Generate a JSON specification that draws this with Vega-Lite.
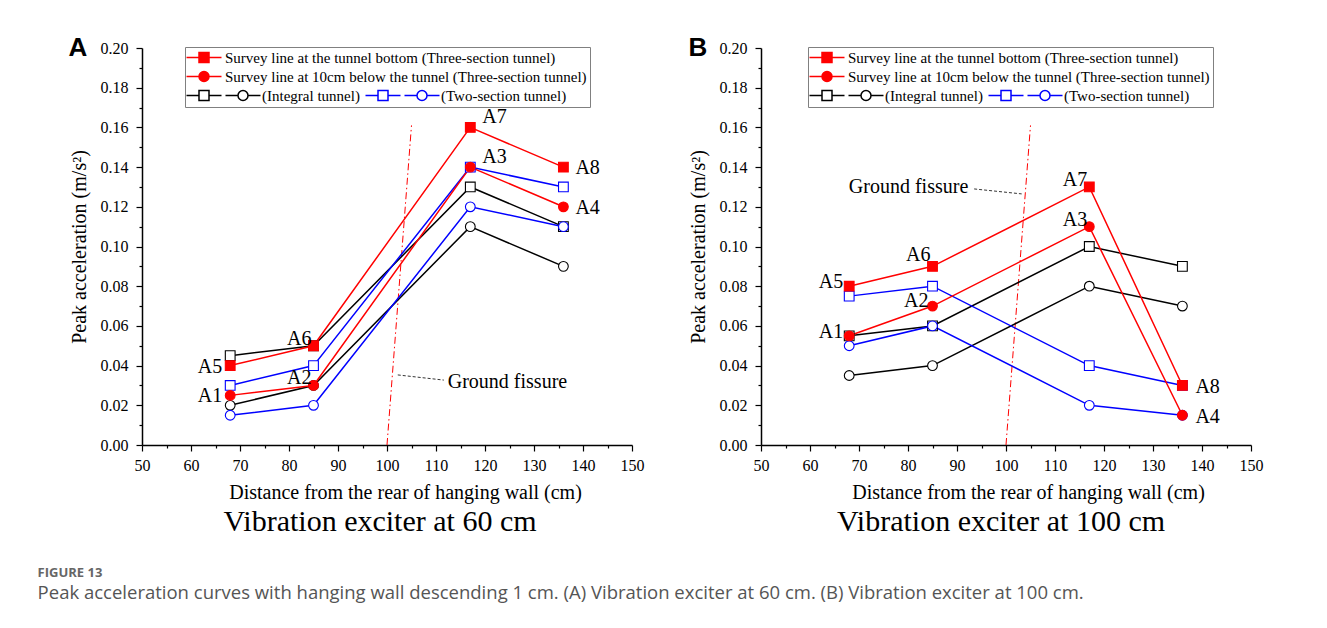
{
  "$schema": "https://vega.github.io/schema/vega-lite/v6.json",
  "background": "white",
  "padding": {"left": 37, "top": 35, "right": 5, "bottom": 5},
  "config": {
    "font": "Liberation Serif",
    "view": {"stroke": null},
    "axis": {
      "labelFont": "Liberation Serif", "titleFont": "Liberation Serif",
      "labelFontSize": 16, "titleFontSize": 20, "titleFontWeight": "normal",
      "labelColor": "#000000", "titleColor": "#000000",
      "domainColor": "#000000", "tickColor": "#000000",
      "domainWidth": 1.5, "tickWidth": 1.2,
      "grid": false, "labelFlush": false, "labelOverlap": false, "labelBound": false
    },
    "axisX": {"labelPadding": 6, "titlePadding": 9},
    "axisY": {"labelPadding": 8, "titlePadding": 11, "titleFontSize": 20},
    "legend": {
      "title": null, "orient": "none", "direction": "vertical", "padding": 3,
      "labelFont": "Liberation Serif", "labelFontSize": 15, "labelColor": "#000000",
      "symbolSize": 100, "symbolStrokeWidth": 1.5, "labelOffset": 22, "rowPadding": 2, "labelLimit": 0
    },
    "text": {"font": "Liberation Serif"}
  },
  "datasets": {
    "main": [
      {"panel": "A", "series": "Integral bottom", "x": 68, "y": 0.045},
      {"panel": "A", "series": "Integral bottom", "x": 85, "y": 0.05},
      {"panel": "A", "series": "Integral bottom", "x": 117, "y": 0.13},
      {"panel": "A", "series": "Integral bottom", "x": 136, "y": 0.11},
      {"panel": "A", "series": "Integral 10cm", "x": 68, "y": 0.02},
      {"panel": "A", "series": "Integral 10cm", "x": 85, "y": 0.03},
      {"panel": "A", "series": "Integral 10cm", "x": 117, "y": 0.11},
      {"panel": "A", "series": "Integral 10cm", "x": 136, "y": 0.09},
      {"panel": "A", "series": "Two-section bottom", "x": 68, "y": 0.03},
      {"panel": "A", "series": "Two-section bottom", "x": 85, "y": 0.04},
      {"panel": "A", "series": "Two-section bottom", "x": 117, "y": 0.14},
      {"panel": "A", "series": "Two-section bottom", "x": 136, "y": 0.13},
      {"panel": "A", "series": "Two-section 10cm", "x": 68, "y": 0.015},
      {"panel": "A", "series": "Two-section 10cm", "x": 85, "y": 0.02},
      {"panel": "A", "series": "Two-section 10cm", "x": 117, "y": 0.12},
      {"panel": "A", "series": "Two-section 10cm", "x": 136, "y": 0.11},
      {"panel": "A", "series": "Three-section bottom", "x": 68, "y": 0.04, "point": "A5"},
      {"panel": "A", "series": "Three-section bottom", "x": 85, "y": 0.05, "point": "A6"},
      {"panel": "A", "series": "Three-section bottom", "x": 117, "y": 0.16, "point": "A7"},
      {"panel": "A", "series": "Three-section bottom", "x": 136, "y": 0.14, "point": "A8"},
      {"panel": "A", "series": "Three-section 10cm", "x": 68, "y": 0.025, "point": "A1"},
      {"panel": "A", "series": "Three-section 10cm", "x": 85, "y": 0.03, "point": "A2"},
      {"panel": "A", "series": "Three-section 10cm", "x": 117, "y": 0.14, "point": "A3"},
      {"panel": "A", "series": "Three-section 10cm", "x": 136, "y": 0.12, "point": "A4"},
      {"panel": "B", "series": "Integral bottom", "x": 68, "y": 0.055},
      {"panel": "B", "series": "Integral bottom", "x": 85, "y": 0.06},
      {"panel": "B", "series": "Integral bottom", "x": 117, "y": 0.10},
      {"panel": "B", "series": "Integral bottom", "x": 136, "y": 0.09},
      {"panel": "B", "series": "Integral 10cm", "x": 68, "y": 0.035},
      {"panel": "B", "series": "Integral 10cm", "x": 85, "y": 0.04},
      {"panel": "B", "series": "Integral 10cm", "x": 117, "y": 0.08},
      {"panel": "B", "series": "Integral 10cm", "x": 136, "y": 0.07},
      {"panel": "B", "series": "Two-section bottom", "x": 68, "y": 0.075},
      {"panel": "B", "series": "Two-section bottom", "x": 85, "y": 0.08},
      {"panel": "B", "series": "Two-section bottom", "x": 117, "y": 0.04},
      {"panel": "B", "series": "Two-section bottom", "x": 136, "y": 0.03},
      {"panel": "B", "series": "Two-section 10cm", "x": 68, "y": 0.05},
      {"panel": "B", "series": "Two-section 10cm", "x": 85, "y": 0.06},
      {"panel": "B", "series": "Two-section 10cm", "x": 117, "y": 0.02},
      {"panel": "B", "series": "Two-section 10cm", "x": 136, "y": 0.015},
      {"panel": "B", "series": "Three-section bottom", "x": 68, "y": 0.08, "point": "A5"},
      {"panel": "B", "series": "Three-section bottom", "x": 85, "y": 0.09, "point": "A6"},
      {"panel": "B", "series": "Three-section bottom", "x": 117, "y": 0.13, "point": "A7"},
      {"panel": "B", "series": "Three-section bottom", "x": 136, "y": 0.03, "point": "A8"},
      {"panel": "B", "series": "Three-section 10cm", "x": 68, "y": 0.055, "point": "A1"},
      {"panel": "B", "series": "Three-section 10cm", "x": 85, "y": 0.07, "point": "A2"},
      {"panel": "B", "series": "Three-section 10cm", "x": 117, "y": 0.11, "point": "A3"},
      {"panel": "B", "series": "Three-section 10cm", "x": 136, "y": 0.015, "point": "A4"}
    ],
    "fissure": [
      {"panel": "A", "x": 100, "y": 0}, {"panel": "A", "x": 105, "y": 0.161},
      {"panel": "B", "x": 100, "y": 0}, {"panel": "B", "x": 105, "y": 0.161}
    ],
    "leader": [
      {"panel": "A", "x": 102.2, "y": 0.0353}, {"panel": "A", "x": 111.6, "y": 0.0327},
      {"panel": "B", "x": 93.5, "y": 0.1290}, {"panel": "B", "x": 103.2, "y": 0.1265}
    ],
    "notes": [
      {"panel": "A", "x": 112.4, "y": 0.0317, "text": "Ground fissure"},
      {"panel": "B", "x": 92.3, "y": 0.130, "text": "Ground fissure"}
    ],
    "letters": [
      {"panel": "A", "letter": "A", "x": 50, "y": 0.2},
      {"panel": "B", "letter": "B", "x": 50, "y": 0.2}
    ],
    "legend1": [
      {"entry": "Survey line at the tunnel bottom (Three-section tunnel)"},
      {"entry": "Survey line at 10cm below the tunnel (Three-section tunnel)"},
      {"entry": "blank1"}
    ],
    "legend2": [
      {"entry2": "i1"}, {"entry2": "i2"}, {"entry2": "(Integral tunnel)"}
    ],
    "legend3": [
      {"entry3": "h1"}, {"entry3": "h2"}, {"entry3": "(Two-section tunnel)"}
    ]
  },
  "hconcat": [
    {
      "width": 490, "height": 397,
      "title": {"text": "Vibration exciter at 60 cm", "orient": "bottom", "fontSize": 30, "font": "Liberation Serif", "fontWeight": "normal", "color": "#000000", "offset": 5, "dx": -7},
      "encoding": {
        "x": {"field": "x", "type": "quantitative", "scale": {"domain": [50, 150], "nice": false, "zero": false},
          "axis": {"title": "Distance from the rear of hanging wall (cm)", "titleX": 263,
            "values": [50,55,60,65,70,75,80,85,90,95,100,105,110,115,120,125,130,135,140,145,150],
            "labelExpr": "datum.value % 10 === 0 ? datum.label : ''",
            "tickSize": {"condition": {"test": "datum.value % 10 !== 0", "value": 3}, "value": 6}}},
        "y": {"field": "y", "type": "quantitative", "scale": {"domain": [0, 0.2], "nice": false},
          "axis": {"title": "Peak acceleration (m/s²)",
            "values": [0,0.01,0.02,0.03,0.04,0.05,0.06,0.07,0.08,0.09,0.1,0.11,0.12,0.13,0.14,0.15,0.16,0.17,0.18,0.19,0.2],
            "labelExpr": "round(datum.value*100) % 2 === 0 ? format(datum.value, '.2f') : ''",
            "tickSize": {"condition": {"test": "round(datum.value*100) % 2 !== 0", "value": 3}, "value": 6}}}
      },
      "layer": [
        {"data": {"name": "fissure"}, "transform": [{"filter": "datum.panel === 'A'"}],
          "mark": {"type": "line", "color": "#ff0000", "strokeWidth": 1, "strokeDash": [7, 3, 1.5, 3]}},
        {"data": {"name": "leader"}, "transform": [{"filter": "datum.panel === 'A'"}],
          "mark": {"type": "line", "color": "#000000", "strokeWidth": 0.8, "strokeDash": [3, 2]}},
        {"data": {"name": "notes"}, "transform": [{"filter": "datum.panel === 'A'"}],
          "mark": {"type": "text", "align": "left", "baseline": "middle", "fontSize": 20, "color": "#000000"},
          "encoding": {"text": {"field": "text"}}},
        {"data": {"name": "main"}, "transform": [{"filter": "datum.panel === 'A'"}],
          "mark": {"type": "line", "strokeWidth": 1.5},
          "encoding": {"color": {"field": "series", "type": "nominal", "legend": null,
            "scale": {"domain": ["Integral bottom", "Integral 10cm", "Two-section bottom", "Two-section 10cm", "Three-section bottom", "Three-section 10cm"],
              "range": ["#000000", "#000000", "#0000ff", "#0000ff", "#ff0000", "#ff0000"]}}}},
        {"data": {"name": "main"}, "transform": [{"filter": "datum.panel === 'A'"}],
          "mark": {"type": "point", "filled": true, "size": 95, "strokeWidth": 1.1, "opacity": 1},
          "encoding": {
            "shape": {"field": "series", "type": "nominal", "legend": null,
              "scale": {"domain": ["Integral bottom", "Integral 10cm", "Two-section bottom", "Two-section 10cm", "Three-section bottom", "Three-section 10cm"],
                "range": ["square", "circle", "square", "circle", "square", "circle"]}},
            "fill": {"field": "series", "type": "nominal", "legend": null,
              "scale": {"domain": ["Integral bottom", "Integral 10cm", "Two-section bottom", "Two-section 10cm", "Three-section bottom", "Three-section 10cm"],
                "range": ["#ffffff", "#ffffff", "#ffffff", "#ffffff", "#ff0000", "#ff0000"]}},
            "stroke": {"field": "series", "type": "nominal", "legend": null,
              "scale": {"domain": ["Integral bottom", "Integral 10cm", "Two-section bottom", "Two-section 10cm", "Three-section bottom", "Three-section 10cm"],
                "range": ["#000000", "#000000", "#0000ff", "#0000ff", "#ff0000", "#ff0000"]}}
          }},
        {"data": {"name": "main"}, "transform": [{"filter": "datum.panel === 'A' && indexof(['A7','A3'], datum.point) >= 0"}],
          "mark": {"type": "text", "align": "left", "baseline": "middle", "dx": 12, "dy": -10, "fontSize": 20, "color": "#000000"},
          "encoding": {"text": {"field": "point"}}},
        {"data": {"name": "main"}, "transform": [{"filter": "datum.panel === 'A' && indexof(['A8','A4'], datum.point) >= 0"}],
          "mark": {"type": "text", "align": "left", "baseline": "middle", "dx": 12, "dy": 1, "fontSize": 20, "color": "#000000"},
          "encoding": {"text": {"field": "point"}}},
        {"data": {"name": "main"}, "transform": [{"filter": "datum.panel === 'A' && indexof(['A5','A1'], datum.point) >= 0"}],
          "mark": {"type": "text", "align": "right", "baseline": "middle", "dx": -8, "dy": 1, "fontSize": 20, "color": "#000000"},
          "encoding": {"text": {"field": "point"}}},
        {"data": {"name": "main"}, "transform": [{"filter": "datum.panel === 'A' && indexof(['A6','A2'], datum.point) >= 0"}],
          "mark": {"type": "text", "align": "right", "baseline": "middle", "dx": -2, "dy": -7, "fontSize": 20, "color": "#000000"},
          "encoding": {"text": {"field": "point"}}},
        {"data": {"name": "letters"}, "transform": [{"filter": "datum.panel === 'A'"}],
          "mark": {"type": "text", "align": "center", "baseline": "middle", "dx": -64, "font": "Liberation Sans", "fontWeight": "bold", "fontSize": 26, "color": "#000000"},
          "encoding": {"text": {"field": "letter"}}},
        {"data": {"name": "legend1"}, "transform": [{"filter": "false"}],
          "mark": {"type": "point", "filled": true, "strokeWidth": 1.5, "opacity": 1},
          "encoding": {
            "shape": {"field": "entry", "type": "nominal",
              "scale": {"domain": ["Survey line at the tunnel bottom (Three-section tunnel)", "Survey line at 10cm below the tunnel (Three-section tunnel)", "blank1"],
                "range": ["M-1.8,0H5.2M0.7,-1H2.7V1H0.7Z", "M-1.8,0H5.2M2.7,0A1,1 0 1,1 0.7,0A1,1 0 1,1 2.7,0Z", "square"]},
              "legend": {"legendX": 43, "legendY": -1, "strokeColor": "#808080", "fillColor": "#ffffff",
                "labelExpr": "datum.label === 'blank1' ? '\u00a0' : datum.label"}},
            "stroke": {"field": "entry", "type": "nominal",
              "scale": {"domain": ["Survey line at the tunnel bottom (Three-section tunnel)", "Survey line at 10cm below the tunnel (Three-section tunnel)", "blank1"],
                "range": ["#ff0000", "#ff0000", "transparent"]},
              "legend": {"legendX": 43, "legendY": -1, "strokeColor": "#808080", "fillColor": "#ffffff",
                "labelExpr": "datum.label === 'blank1' ? '\u00a0' : datum.label"}},
            "fill": {"field": "entry", "type": "nominal",
              "scale": {"domain": ["Survey line at the tunnel bottom (Three-section tunnel)", "Survey line at 10cm below the tunnel (Three-section tunnel)", "blank1"],
                "range": ["#ff0000", "#ff0000", "transparent"]},
              "legend": {"legendX": 43, "legendY": -1, "strokeColor": "#808080", "fillColor": "#ffffff",
                "labelExpr": "datum.label === 'blank1' ? '\u00a0' : datum.label"}}
          }},
        {"data": {"name": "legend2"}, "transform": [{"filter": "false"}],
          "mark": {"type": "point", "filled": true, "strokeWidth": 1.5, "opacity": 1},
          "encoding": {
            "shape": {"field": "entry2", "type": "nominal",
              "scale": {"domain": ["i1", "i2", "(Integral tunnel)"],
                "range": ["square", "square", "M-1.8,0H0.7M2.7,0H5.2M0.7,-1H2.7V1H0.7ZM6,0H8.5M10.5,0H13M10.5,0A1,1 0 1,1 8.5,0A1,1 0 1,1 10.5,0Z"]},
              "legend": {"legendX": 43, "legendY": -1, "labelOffset": 59,
                "labelExpr": "datum.label === '(Integral tunnel)' ? datum.label : '\u00a0'"}},
            "stroke": {"field": "entry2", "type": "nominal",
              "scale": {"domain": ["i1", "i2", "(Integral tunnel)"], "range": ["transparent", "transparent", "#000000"]},
              "legend": {"legendX": 43, "legendY": -1, "labelOffset": 59,
                "labelExpr": "datum.label === '(Integral tunnel)' ? datum.label : '\u00a0'"}},
            "fill": {"field": "entry2", "type": "nominal",
              "scale": {"domain": ["i1", "i2", "(Integral tunnel)"], "range": ["transparent", "transparent", "#ffffff"]},
              "legend": {"legendX": 43, "legendY": -1, "labelOffset": 59,
                "labelExpr": "datum.label === '(Integral tunnel)' ? datum.label : '\u00a0'"}}
          }},
        {"data": {"name": "legend3"}, "transform": [{"filter": "false"}],
          "mark": {"type": "point", "filled": true, "strokeWidth": 1.5, "opacity": 1},
          "encoding": {
            "shape": {"field": "entry3", "type": "nominal",
              "scale": {"domain": ["h1", "h2", "(Two-section tunnel)"],
                "range": ["square", "square", "M-1.8,0H0.7M2.7,0H5.2M0.7,-1H2.7V1H0.7ZM6,0H8.5M10.5,0H13M10.5,0A1,1 0 1,1 8.5,0A1,1 0 1,1 10.5,0Z"]},
              "legend": {"legendX": 222, "legendY": -1, "labelOffset": 59,
                "labelExpr": "datum.label === '(Two-section tunnel)' ? datum.label : '\u00a0'"}},
            "stroke": {"field": "entry3", "type": "nominal",
              "scale": {"domain": ["h1", "h2", "(Two-section tunnel)"], "range": ["transparent", "transparent", "#0000ff"]},
              "legend": {"legendX": 222, "legendY": -1, "labelOffset": 59,
                "labelExpr": "datum.label === '(Two-section tunnel)' ? datum.label : '\u00a0'"}},
            "fill": {"field": "entry3", "type": "nominal",
              "scale": {"domain": ["h1", "h2", "(Two-section tunnel)"], "range": ["transparent", "transparent", "#ffffff"]},
              "legend": {"legendX": 222, "legendY": -1, "labelOffset": 59,
                "labelExpr": "datum.label === '(Two-section tunnel)' ? datum.label : '\u00a0'"}}
          }}
      ],
      "resolve": {"scale": {"shape": "independent", "fill": "independent", "stroke": "independent", "color": "independent"}}
    },
    {
      "width": 490, "height": 397,
      "title": {"text": "Vibration exciter at 100 cm", "orient": "bottom", "fontSize": 30, "font": "Liberation Serif", "fontWeight": "normal", "color": "#000000", "offset": 5, "dx": -5},
      "encoding": {
        "x": {"field": "x", "type": "quantitative", "scale": {"domain": [50, 150], "nice": false, "zero": false},
          "axis": {"title": "Distance from the rear of hanging wall (cm)", "titleX": 267,
            "values": [50,55,60,65,70,75,80,85,90,95,100,105,110,115,120,125,130,135,140,145,150],
            "labelExpr": "datum.value % 10 === 0 ? datum.label : ''",
            "tickSize": {"condition": {"test": "datum.value % 10 !== 0", "value": 3}, "value": 6}}},
        "y": {"field": "y", "type": "quantitative", "scale": {"domain": [0, 0.2], "nice": false},
          "axis": {"title": "Peak acceleration (m/s²)",
            "values": [0,0.01,0.02,0.03,0.04,0.05,0.06,0.07,0.08,0.09,0.1,0.11,0.12,0.13,0.14,0.15,0.16,0.17,0.18,0.19,0.2],
            "labelExpr": "round(datum.value*100) % 2 === 0 ? format(datum.value, '.2f') : ''",
            "tickSize": {"condition": {"test": "round(datum.value*100) % 2 !== 0", "value": 3}, "value": 6}}}
      },
      "layer": [
        {"data": {"name": "fissure"}, "transform": [{"filter": "datum.panel === 'B'"}],
          "mark": {"type": "line", "color": "#ff0000", "strokeWidth": 1, "strokeDash": [7, 3, 1.5, 3]}},
        {"data": {"name": "leader"}, "transform": [{"filter": "datum.panel === 'B'"}],
          "mark": {"type": "line", "color": "#000000", "strokeWidth": 0.8, "strokeDash": [3, 2]}},
        {"data": {"name": "notes"}, "transform": [{"filter": "datum.panel === 'B'"}],
          "mark": {"type": "text", "align": "right", "baseline": "middle", "fontSize": 20, "color": "#000000"},
          "encoding": {"text": {"field": "text"}}},
        {"data": {"name": "main"}, "transform": [{"filter": "datum.panel === 'B'"}],
          "mark": {"type": "line", "strokeWidth": 1.5},
          "encoding": {"color": {"field": "series", "type": "nominal", "legend": null,
            "scale": {"domain": ["Integral bottom", "Integral 10cm", "Two-section bottom", "Two-section 10cm", "Three-section bottom", "Three-section 10cm"],
              "range": ["#000000", "#000000", "#0000ff", "#0000ff", "#ff0000", "#ff0000"]}}}},
        {"data": {"name": "main"}, "transform": [{"filter": "datum.panel === 'B'"}],
          "mark": {"type": "point", "filled": true, "size": 95, "strokeWidth": 1.1, "opacity": 1},
          "encoding": {
            "shape": {"field": "series", "type": "nominal", "legend": null,
              "scale": {"domain": ["Integral bottom", "Integral 10cm", "Two-section bottom", "Two-section 10cm", "Three-section bottom", "Three-section 10cm"],
                "range": ["square", "circle", "square", "circle", "square", "circle"]}},
            "fill": {"field": "series", "type": "nominal", "legend": null,
              "scale": {"domain": ["Integral bottom", "Integral 10cm", "Two-section bottom", "Two-section 10cm", "Three-section bottom", "Three-section 10cm"],
                "range": ["#ffffff", "#ffffff", "#ffffff", "#ffffff", "#ff0000", "#ff0000"]}},
            "stroke": {"field": "series", "type": "nominal", "legend": null,
              "scale": {"domain": ["Integral bottom", "Integral 10cm", "Two-section bottom", "Two-section 10cm", "Three-section bottom", "Three-section 10cm"],
                "range": ["#000000", "#000000", "#0000ff", "#0000ff", "#ff0000", "#ff0000"]}}
          }},
        {"data": {"name": "main"}, "transform": [{"filter": "datum.panel === 'B' && indexof(['A5','A1'], datum.point) >= 0"}],
          "mark": {"type": "text", "align": "right", "baseline": "middle", "dx": -6, "dy": -4, "fontSize": 20, "color": "#000000"},
          "encoding": {"text": {"field": "point"}}},
        {"data": {"name": "main"}, "transform": [{"filter": "datum.panel === 'B' && indexof(['A6'], datum.point) >= 0"}],
          "mark": {"type": "text", "align": "right", "baseline": "middle", "dx": -2, "dy": -11, "fontSize": 20, "color": "#000000"},
          "encoding": {"text": {"field": "point"}}},
        {"data": {"name": "main"}, "transform": [{"filter": "datum.panel === 'B' && indexof(['A7','A3'], datum.point) >= 0"}],
          "mark": {"type": "text", "align": "right", "baseline": "middle", "dx": -2, "dy": -7, "fontSize": 20, "color": "#000000"},
          "encoding": {"text": {"field": "point"}}},
        {"data": {"name": "main"}, "transform": [{"filter": "datum.panel === 'B' && indexof(['A2'], datum.point) >= 0"}],
          "mark": {"type": "text", "align": "right", "baseline": "middle", "dx": -4, "dy": -5, "fontSize": 20, "color": "#000000"},
          "encoding": {"text": {"field": "point"}}},
        {"data": {"name": "main"}, "transform": [{"filter": "datum.panel === 'B' && indexof(['A8','A4'], datum.point) >= 0"}],
          "mark": {"type": "text", "align": "left", "baseline": "middle", "dx": 13, "dy": 2, "fontSize": 20, "color": "#000000"},
          "encoding": {"text": {"field": "point"}}},
        {"data": {"name": "letters"}, "transform": [{"filter": "datum.panel === 'B'"}],
          "mark": {"type": "text", "align": "center", "baseline": "middle", "dx": -63, "font": "Liberation Sans", "fontWeight": "bold", "fontSize": 26, "color": "#000000"},
          "encoding": {"text": {"field": "letter"}}},
        {"data": {"name": "legend1"}, "transform": [{"filter": "false"}],
          "mark": {"type": "point", "filled": true, "strokeWidth": 1.5, "opacity": 1},
          "encoding": {
            "shape": {"field": "entry", "type": "nominal",
              "scale": {"domain": ["Survey line at the tunnel bottom (Three-section tunnel)", "Survey line at 10cm below the tunnel (Three-section tunnel)", "blank1"],
                "range": ["M-1.8,0H5.2M0.7,-1H2.7V1H0.7Z", "M-1.8,0H5.2M2.7,0A1,1 0 1,1 0.7,0A1,1 0 1,1 2.7,0Z", "square"]},
              "legend": {"legendX": 47, "legendY": -1, "strokeColor": "#808080", "fillColor": "#ffffff",
                "labelExpr": "datum.label === 'blank1' ? '\u00a0' : datum.label"}},
            "stroke": {"field": "entry", "type": "nominal",
              "scale": {"domain": ["Survey line at the tunnel bottom (Three-section tunnel)", "Survey line at 10cm below the tunnel (Three-section tunnel)", "blank1"],
                "range": ["#ff0000", "#ff0000", "transparent"]},
              "legend": {"legendX": 47, "legendY": -1, "strokeColor": "#808080", "fillColor": "#ffffff",
                "labelExpr": "datum.label === 'blank1' ? '\u00a0' : datum.label"}},
            "fill": {"field": "entry", "type": "nominal",
              "scale": {"domain": ["Survey line at the tunnel bottom (Three-section tunnel)", "Survey line at 10cm below the tunnel (Three-section tunnel)", "blank1"],
                "range": ["#ff0000", "#ff0000", "transparent"]},
              "legend": {"legendX": 47, "legendY": -1, "strokeColor": "#808080", "fillColor": "#ffffff",
                "labelExpr": "datum.label === 'blank1' ? '\u00a0' : datum.label"}}
          }},
        {"data": {"name": "legend2"}, "transform": [{"filter": "false"}],
          "mark": {"type": "point", "filled": true, "strokeWidth": 1.5, "opacity": 1},
          "encoding": {
            "shape": {"field": "entry2", "type": "nominal",
              "scale": {"domain": ["i1", "i2", "(Integral tunnel)"],
                "range": ["square", "square", "M-1.8,0H0.7M2.7,0H5.2M0.7,-1H2.7V1H0.7ZM6,0H8.5M10.5,0H13M10.5,0A1,1 0 1,1 8.5,0A1,1 0 1,1 10.5,0Z"]},
              "legend": {"legendX": 47, "legendY": -1, "labelOffset": 59,
                "labelExpr": "datum.label === '(Integral tunnel)' ? datum.label : '\u00a0'"}},
            "stroke": {"field": "entry2", "type": "nominal",
              "scale": {"domain": ["i1", "i2", "(Integral tunnel)"], "range": ["transparent", "transparent", "#000000"]},
              "legend": {"legendX": 47, "legendY": -1, "labelOffset": 59,
                "labelExpr": "datum.label === '(Integral tunnel)' ? datum.label : '\u00a0'"}},
            "fill": {"field": "entry2", "type": "nominal",
              "scale": {"domain": ["i1", "i2", "(Integral tunnel)"], "range": ["transparent", "transparent", "#ffffff"]},
              "legend": {"legendX": 47, "legendY": -1, "labelOffset": 59,
                "labelExpr": "datum.label === '(Integral tunnel)' ? datum.label : '\u00a0'"}}
          }},
        {"data": {"name": "legend3"}, "transform": [{"filter": "false"}],
          "mark": {"type": "point", "filled": true, "strokeWidth": 1.5, "opacity": 1},
          "encoding": {
            "shape": {"field": "entry3", "type": "nominal",
              "scale": {"domain": ["h1", "h2", "(Two-section tunnel)"],
                "range": ["square", "square", "M-1.8,0H0.7M2.7,0H5.2M0.7,-1H2.7V1H0.7ZM6,0H8.5M10.5,0H13M10.5,0A1,1 0 1,1 8.5,0A1,1 0 1,1 10.5,0Z"]},
              "legend": {"legendX": 226, "legendY": -1, "labelOffset": 59,
                "labelExpr": "datum.label === '(Two-section tunnel)' ? datum.label : '\u00a0'"}},
            "stroke": {"field": "entry3", "type": "nominal",
              "scale": {"domain": ["h1", "h2", "(Two-section tunnel)"], "range": ["transparent", "transparent", "#0000ff"]},
              "legend": {"legendX": 226, "legendY": -1, "labelOffset": 59,
                "labelExpr": "datum.label === '(Two-section tunnel)' ? datum.label : '\u00a0'"}},
            "fill": {"field": "entry3", "type": "nominal",
              "scale": {"domain": ["h1", "h2", "(Two-section tunnel)"], "range": ["transparent", "transparent", "#ffffff"]},
              "legend": {"legendX": 226, "legendY": -1, "labelOffset": 59,
                "labelExpr": "datum.label === '(Two-section tunnel)' ? datum.label : '\u00a0'"}}
          }}
      ],
      "resolve": {"scale": {"shape": "independent", "fill": "independent", "stroke": "independent", "color": "independent"}}
    }
  ],
  "spacing": 44,
  "title": {"text": "FIGURE 13", "subtitle": "Peak acceleration curves with hanging wall descending 1 cm. (A) Vibration exciter at 60 cm. (B) Vibration exciter at 100 cm.",
    "orient": "bottom", "anchor": "start", "font": "Open Sans", "fontSize": 13, "fontWeight": "bold", "color": "#666666",
    "subtitleFont": "Open Sans", "subtitleFontSize": 18.5, "subtitleColor": "#555555", "subtitlePadding": 4, "offset": 30, "dx": -31}
}
